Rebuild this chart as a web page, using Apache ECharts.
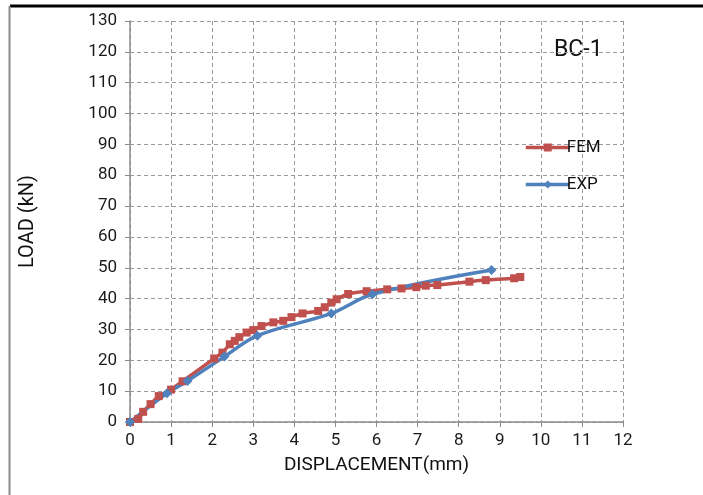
<!DOCTYPE html>
<html><head><meta charset="utf-8">
<script src="https://cdn.jsdelivr.net/npm/echarts@6/dist/echarts.min.js"></script>
<style>html,body{margin:0;padding:0;background:#fff}#c{width:703px;height:495px}</style>
</head><body><div id="c"></div>
<script>
const femData = [[0,0],[0.2,1],[0.32,3.3],[0.5,5.8],[0.7,8.4],[1.0,10.5],[1.28,13.2],[2.05,20.6],[2.25,22.5],[2.43,25.2],[2.55,26.3],[2.66,27.5],[2.84,29],[3.0,29.8],[3.2,31.1],[3.49,32.3],[3.73,32.8],[3.93,34],[4.2,35.2],[4.58,36],[4.74,37.2],[4.9,38.7],[5.03,39.8],[5.31,41.5],[5.76,42.4],[6.26,43],[6.61,43.3],[6.97,43.7],[7.2,44.2],[7.48,44.4],[8.26,45.5],[8.66,46],[9.35,46.6],[9.5,47]];
const expData = [[0,0],[0.9,9.3],[1.4,13.3],[2.3,21.2],[3.1,28],[4.9,35.2],[5.9,41.4],[8.8,49.3]];
const seriesNames = ['FEM','EXP'];
const chartTitle = 'BC-1';
const xName = 'DISPLACEMENT(mm)';
const yName = 'LOAD (kN)';
const font = '"Roboto", sans-serif';
const chart = echarts.init(document.getElementById('c'));
chart.setOption({
  animation:false,
  grid:{left:130,right:80,top:21,bottom:73},
  graphic:[
    {type:'line',shape:{x1:10,y1:6,x2:703,y2:6},style:{stroke:'#000',lineWidth:3}},
    {type:'line',shape:{x1:9.5,y1:6,x2:9.5,y2:495},style:{stroke:'#8c8c8c',lineWidth:2}},
    {type:'text',left:554,top:39,style:{text:chartTitle,font:'23px '+font,fill:'#111'}}
  ],
  legend:{orient:'vertical',left:519,top:134,itemWidth:44,itemHeight:10,itemGap:20,
    lineStyle:{width:3.5},
    textStyle:{fontFamily:font,fontSize:17,color:'#111',padding:[0,0,0,-8]},
    data:seriesNames},
  xAxis:{type:'value',min:0,max:12,interval:1,name:xName,nameLocation:'middle',nameGap:34,
    nameTextStyle:{fontFamily:font,fontSize:19,color:'#111'},
    axisLine:{lineStyle:{color:'#8c8c8c',width:1.5}},
    axisTick:{show:true,length:5,lineStyle:{color:'#8c8c8c'}},
    axisLabel:{fontFamily:font,fontSize:17,color:'#1a1a1a',margin:10},
    splitLine:{lineStyle:{type:[4,3],color:'#9a9a9a'}}},
  yAxis:{type:'value',min:0,max:130,interval:10,name:yName,nameLocation:'middle',nameGap:92,
    nameTextStyle:{fontFamily:font,fontSize:20,color:'#111'},
    axisLine:{show:true,lineStyle:{color:'#8c8c8c',width:1.5}},
    axisTick:{show:true,length:5,lineStyle:{color:'#8c8c8c'}},
    axisLabel:{fontFamily:font,fontSize:17,color:'#1a1a1a',margin:13},
    splitLine:{lineStyle:{type:[4,3],color:'#9a9a9a'}}},
  series:[
    {name:seriesNames[0],type:'line',data:femData,symbol:'rect',symbolSize:8,smooth:0.3,
      lineStyle:{color:'#C0504D',width:3.5},itemStyle:{color:'#C0504D'}},
    {name:seriesNames[1],type:'line',data:expData,symbol:'diamond',symbolSize:10,smooth:0.35,
      lineStyle:{color:'#4F81BD',width:3.5},itemStyle:{color:'#4F81BD'}}
  ]
});
</script></body></html>
